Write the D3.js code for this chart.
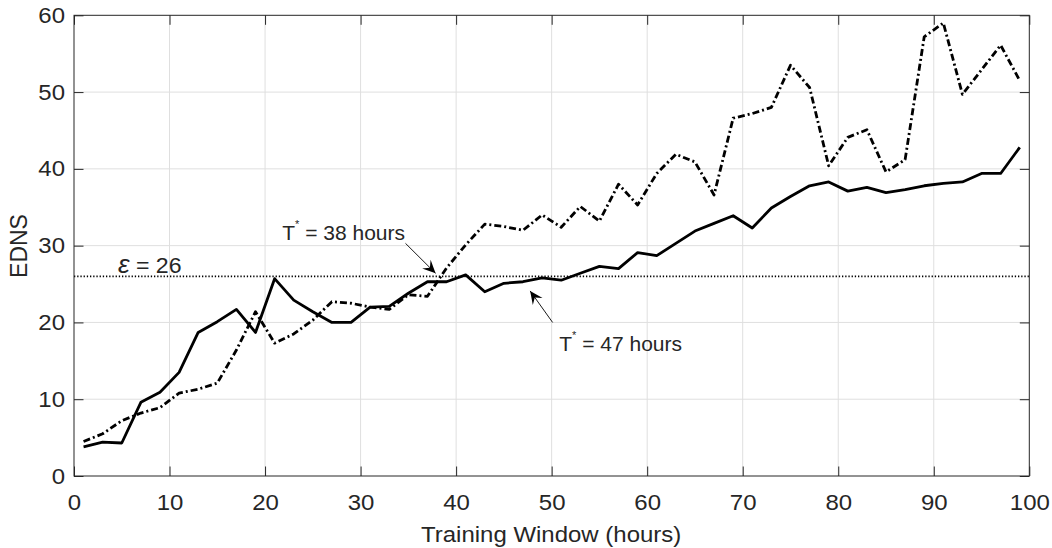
<!DOCTYPE html>
<html>
<head>
<meta charset="utf-8">
<script src="https://cdn.jsdelivr.net/npm/d3@7/dist/d3.min.js"></script>
<style>
  body { margin: 0; background: #fff; }
  text { font-family: "Liberation Sans", Arial, sans-serif; fill: #262626; }
</style>
</head>
<body>
<svg id="chart" width="1052" height="548"></svg>
<script>
// Training window lengths (hours)
const hours = [1, 3, 5, 7, 9, 11, 13, 15, 17, 19, 21, 23, 25, 27, 29, 31, 33, 35, 37, 39,
               41, 43, 45, 47, 49, 51, 53, 55, 57, 59, 61, 63, 65, 67, 69, 71, 73, 75, 77, 79,
               81, 83, 85, 87, 89, 91, 93, 95, 97, 99];

// EDNS, solid curve
const ednsSolid = [3.8, 4.4, 4.3, 9.6, 10.9, 13.5, 18.7, 20.1, 21.7, 18.7,
                   25.7, 22.9, 21.4, 20.0, 20.0, 22.0, 22.1, 23.8, 25.3, 25.3,
                   26.2, 24.0, 25.1, 25.3, 25.8, 25.5, 26.4, 27.3, 27.0, 29.1,
                   28.7, 30.3, 31.9, 32.9, 33.9, 32.3, 34.9, 36.4, 37.8, 38.3,
                   37.1, 37.6, 36.9, 37.3, 37.8, 38.1, 38.3, 39.4, 39.4, 42.8];

// EDNS, dash-dot curve
const ednsDashDot = [4.5, 5.5, 7.2, 8.2, 8.9, 10.8, 11.3, 12.1, 16.4, 21.4,
                     17.3, 18.5, 20.3, 22.7, 22.5, 22.0, 21.7, 23.6, 23.4, 27.1,
                     30.1, 32.8, 32.5, 32.0, 34.0, 32.4, 35.1, 33.2, 38.0, 35.3,
                     39.4, 41.9, 40.9, 36.6, 46.6, 47.2, 48.0, 53.5, 50.6, 40.4,
                     44.1, 45.1, 39.6, 41.2, 57.2, 59.0, 49.7, 52.9, 56.1, 51.5];

// Threshold level
const epsilon = [26];

// Axis ticks
const xTicks = [0, 10, 20, 30, 40, 50, 60, 70, 80, 90, 100];
const yTicks = [0, 10, 20, 30, 40, 50, 60];

// Annotations: crossing hours, label anchor and arrow (start -> tip) in data units
const crossings = [38, 47];
const crossLabel = [[21.8, 30.7], [50.8, 16.3]];
const crossArrow = [[[34.7, 30.3], [37.85, 26.4]], [[50.1, 20.0], [47.75, 24.1]]];
const epsLabelPos = [4.6, 26.4];

const svg = d3.select("#chart");
const pL = 74, pR = 1029.3, pT = 15.3, pB = 476;
const x = d3.scaleLinear().domain([0, 100]).range([pL, pR]);
const y = d3.scaleLinear().domain([0, 60]).range([pB, pT]);
const ink = "#262626";
const tickLen = 9.5;
const fs = 22;
const sx = 1.09;   // horizontal widening of axis lettering

// grid
const grid = svg.append("g").attr("stroke", "#dfdfdf").attr("stroke-width", 1);
grid.selectAll(".gx").data(xTicks.slice(1, -1)).join("line")
  .attr("x1", d => x(d)).attr("x2", d => x(d)).attr("y1", pT).attr("y2", pB);
grid.selectAll(".gy").data(yTicks.slice(1, -1)).join("line")
  .attr("y1", d => y(d)).attr("y2", d => y(d)).attr("x1", pL).attr("x2", pR);

// threshold
svg.append("line")
  .attr("x1", pL).attr("x2", pR)
  .attr("y1", y(epsilon[0])).attr("y2", y(epsilon[0]))
  .attr("stroke", "#000").attr("stroke-width", 1.6)
  .attr("stroke-dasharray", "1.3,1.9");

// curves
const line = d3.line().x(d => x(d[0])).y(d => y(d[1]));
svg.append("path")
  .datum(hours.map((h, i) => [h, ednsDashDot[i]]))
  .attr("d", line).attr("fill", "none").attr("stroke", "#000")
  .attr("stroke-width", 2.8).attr("stroke-linejoin", "round")
  .attr("stroke-dasharray", "7,3,2,3");
svg.append("path")
  .datum(hours.map((h, i) => [h, ednsSolid[i]]))
  .attr("d", line).attr("fill", "none").attr("stroke", "#000")
  .attr("stroke-width", 2.8).attr("stroke-linejoin", "round");

// axes
function styleAxis(g) {
  g.select(".domain").remove();
  g.selectAll(".tick line").attr("stroke", ink);
  g.selectAll(".tick text").attr("font-size", fs).attr("fill", ink)
    .style("font-family", '"Liberation Sans", Arial, sans-serif');
}
svg.append("g").attr("transform", `translate(0,${pB})`)
  .call(d3.axisBottom(x).tickValues(xTicks).tickSizeInner(-tickLen).tickSizeOuter(0).tickPadding(18))
  .call(styleAxis)
  .call(g => g.selectAll(".tick text").attr("transform", `scale(${sx},1)`));
svg.append("g").attr("transform", `translate(0,${pT})`)
  .call(d3.axisTop(x).tickValues(xTicks).tickSizeInner(-tickLen).tickSizeOuter(0).tickFormat(""))
  .call(styleAxis);
svg.append("g").attr("transform", `translate(${pL},0)`)
  .call(d3.axisLeft(y).tickValues(yTicks).tickSizeInner(-tickLen).tickSizeOuter(0).tickPadding(9))
  .call(styleAxis)
  .call(g => g.selectAll(".tick text").attr("x", -9 / sx).attr("transform", `scale(${sx},1)`));
svg.append("g").attr("transform", `translate(${pR},0)`)
  .call(d3.axisRight(y).tickValues(yTicks).tickSizeInner(-tickLen).tickSizeOuter(0).tickFormat(""))
  .call(styleAxis);
svg.append("rect")
  .attr("x", pL).attr("y", pT).attr("width", pR - pL).attr("height", pB - pT)
  .attr("fill", "none").attr("stroke", ink).attr("stroke-width", 1);

// axis titles
svg.append("text").attr("transform", `translate(${(pL + pR) / 2 - 0.5},542) scale(${sx},1)`)
  .attr("text-anchor", "middle").attr("font-size", fs).text("Training Window (hours)");
svg.append("text").attr("transform", "translate(27,246) rotate(-90)")
  .attr("text-anchor", "middle").attr("font-size", 23).text("EDNS");

// epsilon label
const eps = svg.append("text")
  .attr("transform", `translate(${x(epsLabelPos[0])},${y(epsLabelPos[1])}) scale(1.05,1)`)
  .attr("font-size", fs);
eps.append("tspan").attr("font-style", "italic").attr("font-size", fs + 3).text("\u03B5");
eps.append("tspan").text(` = ${epsilon[0]}`);

// crossing annotations
crossings.forEach((c, i) => {
  const t = svg.append("text")
    .attr("x", x(crossLabel[i][0])).attr("y", y(crossLabel[i][1])).attr("font-size", 21);
  t.append("tspan").text("T");
  t.append("tspan").attr("font-size", 11).attr("dy", -12).text("*");
  t.append("tspan").attr("dy", 12).text(` = ${c} hours`);

  const [p0, p1] = crossArrow[i];
  const x0 = x(p0[0]), y0 = y(p0[1]), x1 = x(p1[0]), y1 = y(p1[1]);
  svg.append("line").attr("x1", x0).attr("y1", y0).attr("x2", x1).attr("y2", y1)
    .attr("stroke", "#000").attr("stroke-width", 0.9);
  const ang = Math.atan2(y1 - y0, x1 - x0);
  const L = 13, W = 6, N = 8;
  const ux = Math.cos(ang), uy = Math.sin(ang), nx = -uy, ny = ux;
  const pts = [
    [x1, y1],
    [x1 - L * ux + W * nx, y1 - L * uy + W * ny],
    [x1 - N * ux, y1 - N * uy],
    [x1 - L * ux - W * nx, y1 - L * uy - W * ny]
  ];
  svg.append("path").attr("d", "M" + pts.map(p => p.join(",")).join("L") + "Z")
    .attr("fill", "#000");
});
</script>
</body>
</html>
